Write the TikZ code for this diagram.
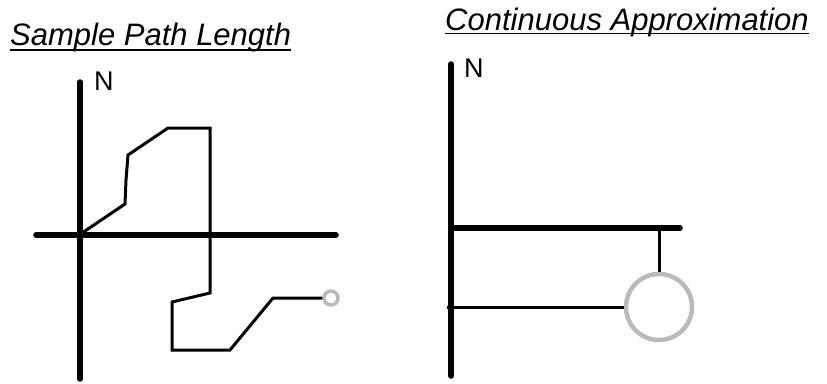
\documentclass[tikz,border=0pt]{standalone}
\usepackage{fontspec}
\setmainfont{Liberation Sans}
\begin{document}
\begin{tikzpicture}[x=1pt,y=-1pt,
  axis/.style={line width=5.5pt,line cap=round},
  thin/.style={line width=3pt,line join=miter},
  gcirc/.style={draw=black!27,fill=none},
  ttl/.style={inner sep=0pt,anchor=base west,font=\fontsize{31}{36}\selectfont\itshape},
  nlab/.style={inner sep=0pt,anchor=base west,font=\fontsize{27}{32}\selectfont}]
\useasboundingbox (0,0) rectangle (827,383);
% titles
\node[ttl] (t1) at (10,45) {Sample Path Length};
\draw[line width=1.8pt] ([yshift=-5pt]t1.base west) -- ([yshift=-5pt]t1.base east);
\node[ttl] (t2) at (445,30) {Continuous Approximation};
\draw[line width=1.8pt] ([yshift=-3.5pt]t2.base west) -- ([yshift=-3.5pt]t2.base east);
% left panel
\coordinate (lv1) at (80,82);
\coordinate (lv2) at (80,379);
\coordinate (lh1) at (36,235);
\coordinate (lh2) at (336,235);
\draw[axis] (lv1) -- (lv2);
\draw[axis] (lh1) -- (lh2);
\node[nlab] (n1) at (94,90) {N};
\coordinate (p0) at (82,233);
\coordinate (p1) at (125,204);
\coordinate (p2) at (126,180);
\coordinate (p3) at (128,155);
\coordinate (p4) at (168,128);
\coordinate (p5) at (210,128);
\coordinate (p6) at (210,293);
\coordinate (p7) at (172,302);
\coordinate (p8) at (172,350);
\coordinate (p9) at (230,350);
\coordinate (p10) at (273,298);
\node[gcirc,circle,line width=3.5pt,minimum size=14pt,inner sep=0pt] (c1) at (331,298) {};
\draw[thin] (p0) -- (p1) -- (p2) -- (p3) -- (p4) -- (p5) -- (p6) -- (p7) -- (p8) -- (p9) -- (p10) -- (c1.west);
% right panel
\coordinate (rv1) at (451,64);
\coordinate (rv2) at (451,376);
\coordinate (rh1) at (451,228);
\coordinate (rh2) at (680,228);
\draw[axis] (rv1) -- (rv2);
\draw[axis] (rh1) -- (rh2);
\node[nlab] (n2) at (464,77) {N};
\node[gcirc,circle,line width=4.5pt,minimum size=66pt,inner sep=0pt] (c2) at (659,307) {};
\coordinate (rt) at (659,228);
\coordinate (rl) at (447,307);
\draw[thin] (rt) -- (c2.north);
\draw[thin] (rl) -- (c2.west);
\end{tikzpicture}
\end{document}
